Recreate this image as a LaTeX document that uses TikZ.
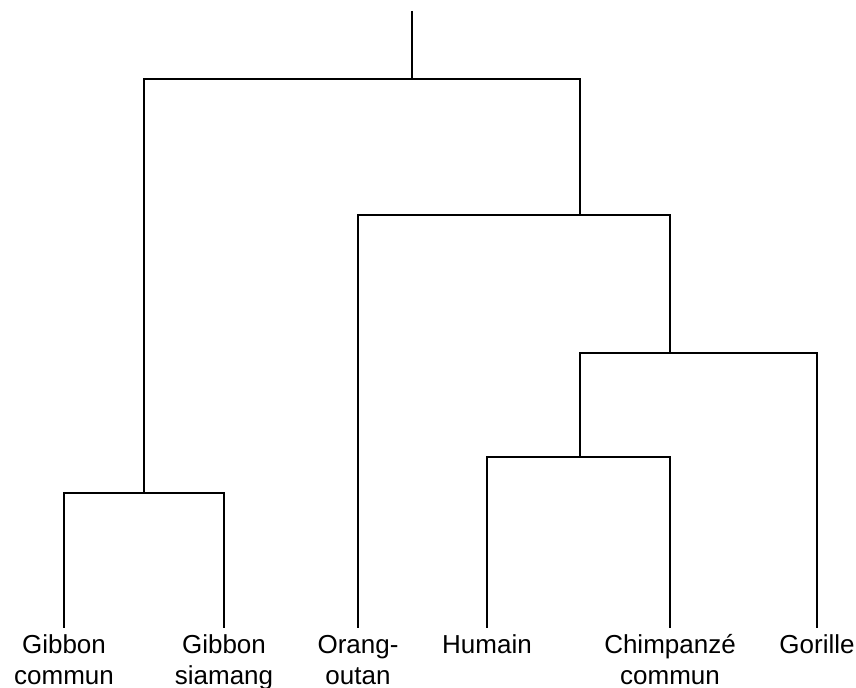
\documentclass[tikz,border=0pt]{standalone}
\usepackage{fontspec}
\setmainfont{Liberation Sans}
\usepackage{tikz}
\newcommand{\topline}{\rule{0pt}{12.7pt}}

\begin{document}
\begin{tikzpicture}[x=0.5pt,y=-0.5pt,line width=1.3pt,line join=miter,
  leaf/.style={anchor=north,align=center,inner sep=0pt,outer sep=0pt,
    font=\fontsize{13}{15.5}\selectfont}]
  \useasboundingbox (0,0) rectangle (856,688);
  \coordinate (top) at (412,11);
  \coordinate (n1) at (412,79);
  \coordinate (n2) at (144,493);
  \coordinate (n3) at (580,215);
  \coordinate (n4) at (670,353);
  \coordinate (n5) at (580,457);
  \node[leaf] (gc) at (64,628) {\topline Gibbon\\commun};
  \node[leaf] (gs) at (224,628) {\topline Gibbon\\siamang};
  \node[leaf] (oo) at (358,628) {\topline Orang-\\outan};
  \node[leaf] (hu) at (487,628) {\topline Humain};
  \node[leaf] (ch) at (670,628) {\topline Chimpanz\'e\\commun};
  \node[leaf] (go) at (817,628) {\topline Gorille};
  \draw (top) -- (n1);
  \draw (n2) |- (n1) -| (n3);
  \draw (gc.north) |- (n2) -| (gs.north);
  \draw (oo.north) |- (n3) -| (n4);
  \draw (n5) |- (n4) -| (go.north);
  \draw (hu.north) |- (n5) -| (ch.north);
\end{tikzpicture}
\end{document}
